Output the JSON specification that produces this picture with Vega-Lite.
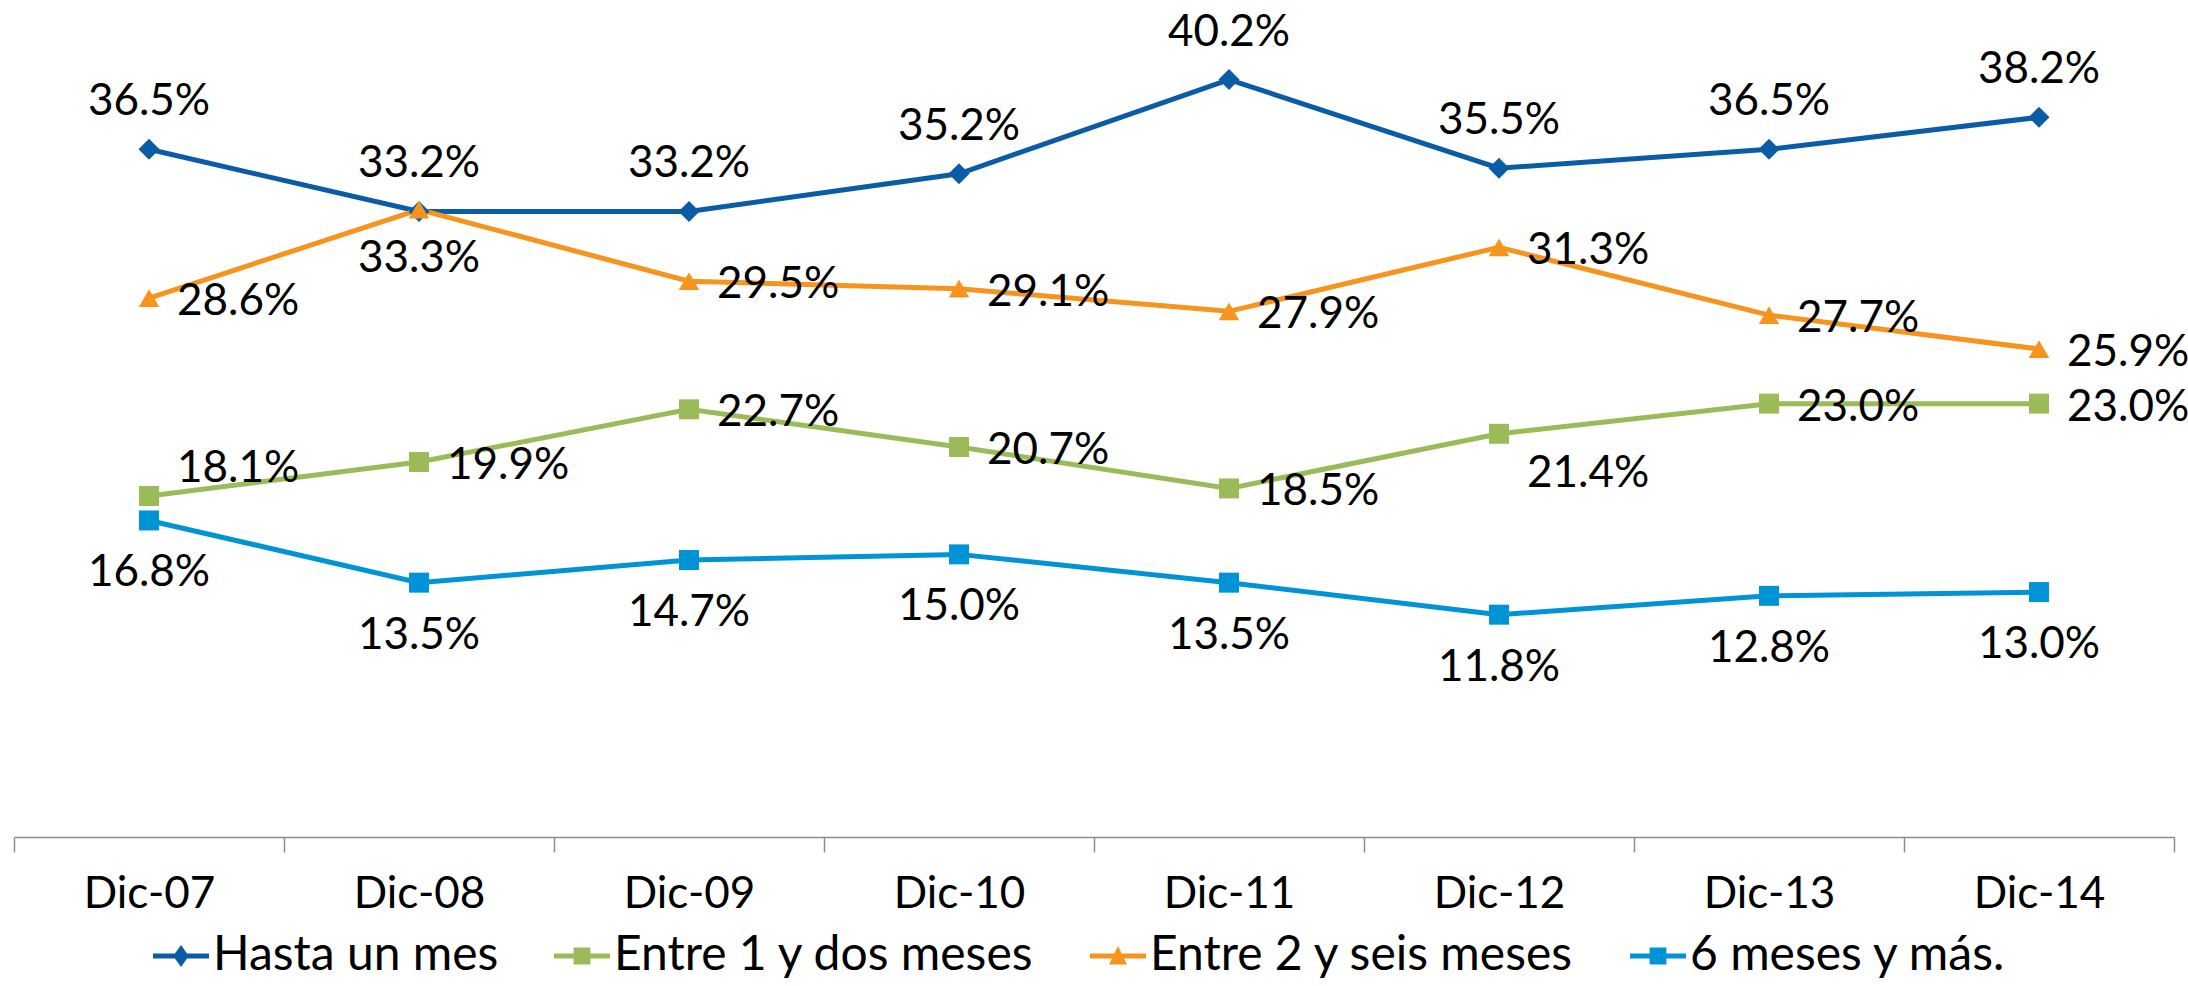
{
  "$schema": "https://vega.github.io/schema/vega-lite/v6.json",
  "autosize": "none",
  "width": 2160,
  "height": 829,
  "padding": {"left": 14, "top": 8, "right": 14, "bottom": 149},
  "background": "white",
  "config": {
    "view": {"stroke": null},
    "font": "Lato",
    "text": {"font": "Lato"}
  },
  "data": {
    "values": [
      {"fecha": "Dic-07", "serie": "Hasta un mes", "valor": 0.365},
      {"fecha": "Dic-08", "serie": "Hasta un mes", "valor": 0.332},
      {"fecha": "Dic-09", "serie": "Hasta un mes", "valor": 0.332},
      {"fecha": "Dic-10", "serie": "Hasta un mes", "valor": 0.352},
      {"fecha": "Dic-11", "serie": "Hasta un mes", "valor": 0.402},
      {"fecha": "Dic-12", "serie": "Hasta un mes", "valor": 0.355},
      {"fecha": "Dic-13", "serie": "Hasta un mes", "valor": 0.365},
      {"fecha": "Dic-14", "serie": "Hasta un mes", "valor": 0.382},
      {"fecha": "Dic-07", "serie": "Entre 1 y dos meses", "valor": 0.181},
      {"fecha": "Dic-08", "serie": "Entre 1 y dos meses", "valor": 0.199},
      {"fecha": "Dic-09", "serie": "Entre 1 y dos meses", "valor": 0.227},
      {"fecha": "Dic-10", "serie": "Entre 1 y dos meses", "valor": 0.207},
      {"fecha": "Dic-11", "serie": "Entre 1 y dos meses", "valor": 0.185},
      {"fecha": "Dic-12", "serie": "Entre 1 y dos meses", "valor": 0.214},
      {"fecha": "Dic-13", "serie": "Entre 1 y dos meses", "valor": 0.230},
      {"fecha": "Dic-14", "serie": "Entre 1 y dos meses", "valor": 0.230},
      {"fecha": "Dic-07", "serie": "Entre 2 y seis meses", "valor": 0.286},
      {"fecha": "Dic-08", "serie": "Entre 2 y seis meses", "valor": 0.333},
      {"fecha": "Dic-09", "serie": "Entre 2 y seis meses", "valor": 0.295},
      {"fecha": "Dic-10", "serie": "Entre 2 y seis meses", "valor": 0.291},
      {"fecha": "Dic-11", "serie": "Entre 2 y seis meses", "valor": 0.279},
      {"fecha": "Dic-12", "serie": "Entre 2 y seis meses", "valor": 0.313},
      {"fecha": "Dic-13", "serie": "Entre 2 y seis meses", "valor": 0.277},
      {"fecha": "Dic-14", "serie": "Entre 2 y seis meses", "valor": 0.259},
      {"fecha": "Dic-07", "serie": "6 meses y más.", "valor": 0.168},
      {"fecha": "Dic-08", "serie": "6 meses y más.", "valor": 0.135},
      {"fecha": "Dic-09", "serie": "6 meses y más.", "valor": 0.147},
      {"fecha": "Dic-10", "serie": "6 meses y más.", "valor": 0.150},
      {"fecha": "Dic-11", "serie": "6 meses y más.", "valor": 0.135},
      {"fecha": "Dic-12", "serie": "6 meses y más.", "valor": 0.118},
      {"fecha": "Dic-13", "serie": "6 meses y más.", "valor": 0.128},
      {"fecha": "Dic-14", "serie": "6 meses y más.", "valor": 0.130}
    ]
  },
  "encoding": {
    "x": {
      "field": "fecha",
      "type": "nominal",
      "sort": null,
      "scale": {"type": "band", "paddingInner": 0, "paddingOuter": 0},
      "axis": {
        "title": null,
        "labelAngle": 0,
        "labelFontSize": 44,
        "labelColor": "#000000",
        "labelPadding": 20,
        "domainColor": "#8c8c8c",
        "domainWidth": 1.5,
        "tickColor": "#8c8c8c",
        "tickWidth": 1.5,
        "tickSize": 15,
        "tickBand": "extent",
        "grid": false
      }
    },
    "y": {
      "field": "valor",
      "type": "quantitative",
      "scale": {"domain": [0, 0.44]},
      "axis": null
    }
  },
  "layer": [
    {
      "transform": [{"filter": "datum.serie === 'Hasta un mes'"}],
      "mark": {"type": "line", "strokeWidth": 5, "color": "#0B5CA7"},
      "encoding": {}
    },
    {
      "transform": [{"filter": "datum.serie === 'Entre 1 y dos meses'"}],
      "mark": {"type": "line", "strokeWidth": 5, "color": "#9BBB59"},
      "encoding": {}
    },
    {
      "transform": [{"filter": "datum.serie === 'Entre 2 y seis meses'"}],
      "mark": {"type": "line", "strokeWidth": 5, "color": "#F7941D"},
      "encoding": {}
    },
    {
      "transform": [{"filter": "datum.serie === '6 meses y más.'"}],
      "mark": {"type": "line", "strokeWidth": 5, "color": "#0093D5"},
      "encoding": {}
    },
    {
      "transform": [{"filter": "datum.serie === 'Hasta un mes'"}],
      "mark": {"type": "point", "shape": "diamond", "filled": true, "opacity": 1, "size": 440, "color": "#0B5CA7"}
    },
    {
      "transform": [{"filter": "datum.serie === 'Entre 1 y dos meses'"}],
      "mark": {"type": "point", "shape": "square", "filled": true, "opacity": 1, "size": 400, "color": "#9BBB59"}
    },
    {
      "transform": [{"filter": "datum.serie === 'Entre 2 y seis meses'"}],
      "mark": {"type": "point", "shape": "triangle-up", "filled": true, "opacity": 1, "size": 420, "color": "#F7941D"}
    },
    {
      "transform": [{"filter": "datum.serie === '6 meses y más.'"}],
      "mark": {"type": "point", "shape": "square", "filled": true, "opacity": 1, "size": 400, "color": "#0093D5"}
    },
    {
      "mark": {"type": "point", "filled": true, "size": 0},
      "encoding": {
        "color": {
          "field": "serie",
          "type": "nominal",
          "scale": {
            "domain": ["Hasta un mes", "Entre 1 y dos meses", "Entre 2 y seis meses", "6 meses y más."],
            "range": ["#0B5CA7", "#9BBB59", "#F7941D", "#0093D5"]
          },
          "legend": {
            "title": null,
            "orient": "none",
            "legendX": 139,
            "legendY": 920,
            "direction": "horizontal",
            "labelFontSize": 48,
            "labelLimit": 1000,
            "labelColor": "#000000",
            "labelOffset": 4,
            "columnPadding": 55,
            "symbolSize": 3136,
            "symbolStrokeWidth": 0,
            "symbolOpacity": 1
          }
        },
        "shape": {
          "field": "serie",
          "type": "nominal",
          "scale": {
            "domain": ["Hasta un mes", "Entre 1 y dos meses", "Entre 2 y seis meses", "6 meses y más."],
            "range": [
              "M-1,-0.09H1V0.09H-1Z M0,-0.39L0.28,0L0,0.39L-0.28,0Z",
              "M-1,-0.09H1V0.09H-1Z M-0.3,-0.3H0.3V0.3H-0.3Z",
              "M-1,-0.09H1V0.09H-1Z M0,-0.36L0.32,0.3H-0.32Z",
              "M-1,-0.09H1V0.09H-1Z M-0.3,-0.3H0.3V0.3H-0.3Z"
            ]
          },
          "legend": {
            "title": null,
            "orient": "none",
            "legendX": 139,
            "legendY": 920,
            "direction": "horizontal",
            "labelFontSize": 48,
            "labelLimit": 1000,
            "labelColor": "#000000",
            "labelOffset": 4,
            "columnPadding": 55,
            "symbolSize": 3136,
            "symbolStrokeWidth": 0,
            "symbolOpacity": 1
          }
        }
      }
    },
    {
      "transform": [{"filter": "datum.serie === 'Hasta un mes'"}],
      "mark": {"type": "text", "fontSize": 44, "align": "center", "baseline": "middle", "dy": -47, "color": "#000000"},
      "encoding": {"text": {"field": "valor", "type": "quantitative", "format": ".1%"}}
    },
    {
      "transform": [{"filter": "datum.serie === '6 meses y más.'"}],
      "mark": {"type": "text", "fontSize": 44, "align": "center", "baseline": "middle", "dy": 53, "color": "#000000"},
      "encoding": {"text": {"field": "valor", "type": "quantitative", "format": ".1%"}}
    },
    {
      "transform": [{"filter": "datum.serie === 'Entre 2 y seis meses' && datum.fecha !== 'Dic-08'"}],
      "mark": {"type": "text", "fontSize": 44, "align": "left", "baseline": "middle", "dx": 28, "dy": 4, "color": "#000000"},
      "encoding": {"text": {"field": "valor", "type": "quantitative", "format": ".1%"}}
    },
    {
      "transform": [{"filter": "datum.serie === 'Entre 2 y seis meses' && datum.fecha === 'Dic-08'"}],
      "mark": {"type": "text", "fontSize": 44, "align": "center", "baseline": "middle", "dy": 49, "color": "#000000"},
      "encoding": {"text": {"field": "valor", "type": "quantitative", "format": ".1%"}}
    },
    {
      "transform": [{"filter": "datum.serie === 'Entre 1 y dos meses' && datum.fecha !== 'Dic-07' && datum.fecha !== 'Dic-12'"}],
      "mark": {"type": "text", "fontSize": 44, "align": "left", "baseline": "middle", "dx": 28, "dy": 4, "color": "#000000"},
      "encoding": {"text": {"field": "valor", "type": "quantitative", "format": ".1%"}}
    },
    {
      "transform": [{"filter": "datum.serie === 'Entre 1 y dos meses' && datum.fecha === 'Dic-07'"}],
      "mark": {"type": "text", "fontSize": 44, "align": "left", "baseline": "middle", "dx": 28, "dy": -27, "color": "#000000"},
      "encoding": {"text": {"field": "valor", "type": "quantitative", "format": ".1%"}}
    },
    {
      "transform": [{"filter": "datum.serie === 'Entre 1 y dos meses' && datum.fecha === 'Dic-12'"}],
      "mark": {"type": "text", "fontSize": 44, "align": "left", "baseline": "middle", "dx": 28, "dy": 40, "color": "#000000"},
      "encoding": {"text": {"field": "valor", "type": "quantitative", "format": ".1%"}}
    }
  ]
}
